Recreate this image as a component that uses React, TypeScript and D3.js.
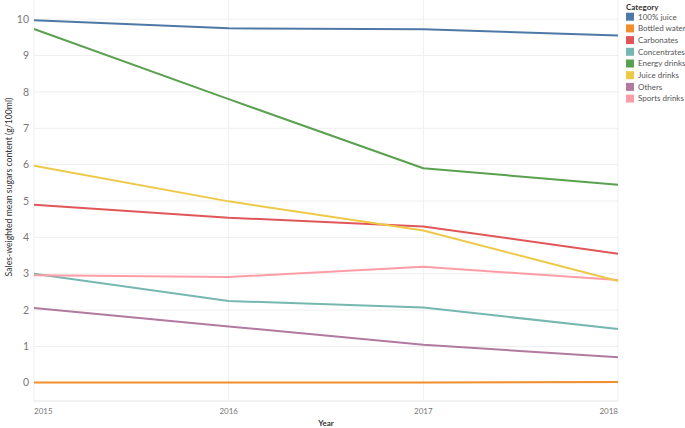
import React from "react";
import * as d3 from "d3";

const years = [2015, 2016, 2017, 2018];
const categories = [
  "100% juice",
  "Bottled water",
  "Carbonates",
  "Concentrates",
  "Energy drinks",
  "Juice drinks",
  "Others",
  "Sports drinks",
];
const colors = ["#4e79a7", "#f28e2b", "#e15759", "#76b7b2", "#59a14f", "#edc948", "#b07aa1", "#ff9da7"];

const juice100 = [9.97, 9.75, 9.72, 9.55];
const bottledWater = [0.01, 0.01, 0.01, 0.02];
const carbonates = [4.9, 4.54, 4.3, 3.55];
const concentrates = [3.0, 2.25, 2.07, 1.48];
const energyDrinks = [9.73, 7.8, 5.9, 5.45];
const juiceDrinks = [5.97, 4.99, 4.19, 2.8];
const others = [2.06, 1.55, 1.05, 0.7];
const sportsDrinks = [2.96, 2.91, 3.19, 2.83];

const seriesValues = [juice100, bottledWater, carbonates, concentrates, energyDrinks, juiceDrinks, others, sportsDrinks];
const yTicks = [0, 1, 2, 3, 4, 5, 6, 7, 8, 9, 10];

export default function App() {
  const W = 685, H = 428;
  const x = d3.scaleLinear().domain([2015, 2018]).range([34, 618]);
  const y = d3.scaleLinear().domain([-0.5, 10.5]).range([401, 1]);
  const line = d3.line<number>().x((_, i) => x(years[i])).y((d) => y(d));
  const font = "Lato, 'Open Sans', sans-serif";
  const order = [1, 6, 3, 7, 2, 5, 4, 0];
  return (
    <svg width={W} height={H} style={{ position: "absolute", left: 0, top: 0, background: "#fff" }} fontFamily={font}>
      {yTicks.map((t) => (
        <line key={"gy" + t} x1={34} x2={618} y1={y(t)} y2={y(t)} stroke="#efefef" strokeWidth={1} />
      ))}
      {years.map((yr) => (
        <line key={"gx" + yr} x1={x(yr)} x2={x(yr)} y1={0} y2={401} stroke="#efefef" strokeWidth={1} />
      ))}
      <line x1={34} x2={618} y1={401} y2={401} stroke="#e6e6e6" />
      {yTicks.map((t) => (
        <text key={"ty" + t} x={29} y={y(t)} dy="0.35em" textAnchor="end" fontSize={10.5} fill="#777">
          {t}
        </text>
      ))}
      {years.map((yr, i) => (
        <text
          key={"tx" + yr}
          x={x(yr)}
          y={414}
          textAnchor={i === 0 ? "start" : i === years.length - 1 ? "end" : "middle"}
          fontSize={8}
          fill="#777"
        >
          {yr}
        </text>
      ))}
      <text x={326} y={426} textAnchor="middle" fontSize={8} fontWeight="bold" fill="#333">
        Year
      </text>
      <text
        transform={`translate(8.5,187) rotate(-90)`}
        textAnchor="middle"
        dy="0.35em"
        fontSize={8.7}
        fill="#333"
      >
        Sales-weighted mean sugars content (g/100ml)
      </text>
      {order.map((ci) => (
        <path
          key={"l" + ci}
          d={line(seriesValues[ci]) || ""}
          fill="none"
          stroke={colors[ci]}
          strokeWidth={2}
          strokeLinejoin="round"
        />
      ))}
      <text x={626} y={10} fontSize={8} fontWeight="bold" fill="#333">
        Category
      </text>
      {categories.map((c, i) => (
        <g key={c} transform={`translate(626,${12.7 + i * 11.7})`}>
          <rect width={8} height={8} fill={colors[i]} />
          <text x={12} y={4} dy="0.35em" fontSize={8} fill="#555">
            {c}
          </text>
        </g>
      ))}
    </svg>
  );
}
